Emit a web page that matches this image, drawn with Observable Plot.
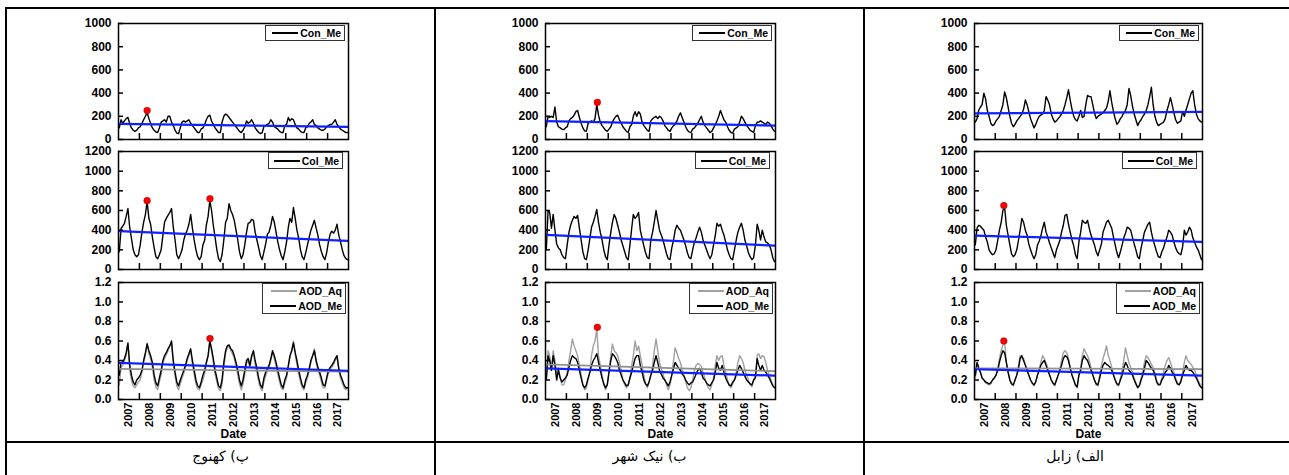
<!DOCTYPE html>
<html><head><meta charset="utf-8">
<script src="https://cdn.jsdelivr.net/npm/d3@7"></script>
<script src="https://cdn.jsdelivr.net/npm/@observablehq/plot@0.6"></script>
<style>
html,body{margin:0;padding:0;background:#fff;}
body{width:1289px;height:475px;overflow:hidden;position:relative;font-family:"Liberation Sans",Arial,sans-serif;}
.ln{position:absolute;background:#000;}
.leg{position:absolute;border:1px solid #333;background:#fff;box-sizing:border-box;padding:0 3px;font:bold 10.5px "Liberation Sans",Arial,sans-serif;color:#000;display:flex;flex-direction:column;justify-content:space-around;}
.leg .row{display:flex;align-items:center;white-space:nowrap;justify-content:flex-end;}
.leg .s{display:inline-block;width:26px;height:2px;margin-right:2px;}
.cap{position:absolute;font:14px "DejaVu Sans",sans-serif;text-align:center;direction:rtl;color:#000;}
</style></head><body>
<script>
// ---------- data (monthly, Jan 2007 .. Dec 2017) ----------
const yearLabels = [2007,2008,2009,2010,2011,2012,2013,2014,2015,2016,2017];
const yTicksCon = [0,200,400,600,800,1000];
const yTicksCol = [0,200,400,600,800,1000,1200];
const yTicksAod = [0,0.2,0.4,0.6,0.8,1.0,1.2];
const captions = ["پ) کهنوج", "ب) نیک شهر", "الف) زابل"];
const legendCon = ["Con_Me"], legendCol = ["Col_Me"], legendAod = ["AOD_Aq","AOD_Me"];

// Kahnuj
const kahnujCon = [
100,170,140,160,180,190,140,100,80,70,80,100,
110,140,170,200,235,180,140,100,80,65,60,100,
150,160,170,150,200,200,150,120,80,55,50,100,
150,160,150,160,170,140,120,100,80,60,60,90,
100,130,170,200,210,160,130,100,80,60,60,150,
200,220,210,190,170,150,130,110,90,70,60,80,
110,160,140,150,170,140,100,80,60,50,60,110,
120,130,140,170,150,110,100,90,70,60,60,120,
130,190,160,180,170,130,100,90,70,60,60,100,
110,140,150,170,130,120,100,90,80,80,90,110,
120,130,130,150,170,130,110,90,80,70,60,60];
const kahnujCol = [
180,420,440,470,540,620,430,320,200,150,130,150,
250,380,480,560,690,520,460,330,220,130,110,150,
200,350,480,520,550,580,620,430,300,150,110,150,
200,300,360,400,460,560,420,300,200,130,100,130,
250,300,450,540,700,600,450,330,200,110,80,150,
300,480,520,670,600,560,500,400,300,180,110,150,
250,380,470,480,510,500,380,300,220,140,100,180,
260,360,380,450,540,480,380,280,200,140,100,180,
280,430,520,480,630,520,400,320,200,130,100,170,
250,330,400,450,500,420,350,250,180,130,100,170,
280,360,390,370,400,460,350,280,200,140,110,100];
const kahnujAodMe = [
0.25,0.38,0.38,0.42,0.48,0.58,0.36,0.25,0.18,0.15,0.2,0.22,
0.25,0.3,0.4,0.48,0.57,0.5,0.45,0.38,0.25,0.17,0.14,0.22,
0.3,0.4,0.45,0.48,0.52,0.55,0.6,0.4,0.28,0.18,0.14,0.2,
0.25,0.3,0.35,0.42,0.47,0.52,0.4,0.3,0.2,0.14,0.12,0.18,
0.25,0.3,0.38,0.45,0.6,0.52,0.42,0.3,0.22,0.14,0.12,0.2,
0.38,0.5,0.55,0.56,0.52,0.5,0.45,0.38,0.3,0.2,0.14,0.2,
0.3,0.4,0.42,0.35,0.45,0.5,0.4,0.32,0.22,0.15,0.12,0.22,
0.28,0.32,0.35,0.42,0.5,0.45,0.38,0.3,0.22,0.15,0.12,0.2,
0.25,0.35,0.45,0.5,0.58,0.48,0.4,0.3,0.22,0.15,0.12,0.2,
0.25,0.32,0.4,0.45,0.5,0.4,0.33,0.28,0.22,0.15,0.14,0.22,
0.3,0.33,0.35,0.38,0.42,0.45,0.32,0.25,0.2,0.15,0.12,0.12];
const kahnujAodAq = [
0.15,0.33,0.35,0.4,0.45,0.57,0.32,0.2,0.14,0.12,0.15,0.18,
0.2,0.28,0.38,0.45,0.58,0.47,0.42,0.33,0.2,0.13,0.1,0.18,
0.25,0.38,0.42,0.46,0.5,0.55,0.58,0.36,0.24,0.14,0.1,0.16,
0.22,0.27,0.33,0.4,0.45,0.5,0.36,0.26,0.16,0.11,0.1,0.15,
0.2,0.27,0.36,0.44,0.6,0.5,0.38,0.26,0.18,0.11,0.09,0.16,
0.33,0.47,0.53,0.55,0.5,0.47,0.42,0.34,0.25,0.16,0.1,0.16,
0.26,0.37,0.4,0.33,0.43,0.48,0.36,0.28,0.18,0.12,0.09,0.18,
0.24,0.3,0.33,0.4,0.48,0.42,0.34,0.26,0.18,0.12,0.1,0.17,
0.22,0.33,0.43,0.5,0.6,0.46,0.36,0.26,0.18,0.12,0.1,0.17,
0.22,0.3,0.38,0.45,0.52,0.38,0.3,0.25,0.18,0.12,0.12,0.2,
0.27,0.31,0.33,0.36,0.4,0.43,0.3,0.22,0.17,0.12,0.1,0.12];

// Nikshahr
const nikCon = [
110,200,190,200,190,280,150,110,100,90,85,100,
110,160,180,190,210,240,250,190,140,100,75,70,
140,150,160,150,180,300,210,150,120,100,80,70,
90,110,150,180,200,210,170,140,110,90,70,60,
110,130,200,240,200,240,220,150,120,100,80,70,
160,180,190,200,180,200,190,160,120,100,80,70,
100,120,130,160,200,230,190,150,110,80,65,60,
90,100,120,140,170,200,150,120,100,80,60,70,
100,130,160,200,250,210,170,150,110,80,60,55,
90,100,110,150,200,180,150,120,100,80,70,60,
120,150,150,160,150,140,130,150,140,120,90,70];
const nikCol = [
200,600,580,420,560,400,260,220,200,150,120,110,
250,380,450,500,540,520,550,420,300,180,110,100,
200,320,430,480,540,610,480,380,300,200,130,100,
250,380,480,560,520,450,380,300,240,180,120,100,
250,420,560,520,540,580,400,320,240,170,120,110,
300,380,480,600,500,400,350,300,230,160,110,100,
220,300,400,450,420,400,350,300,240,170,120,110,
200,280,320,380,430,380,300,250,200,150,110,150,
250,350,470,440,460,400,350,280,200,150,110,100,
200,300,380,430,470,400,300,240,170,130,100,120,
250,460,400,300,400,330,280,270,250,200,120,80];
const nikAodMe = [
0.2,0.45,0.4,0.3,0.45,0.35,0.2,0.3,0.22,0.18,0.2,0.22,
0.25,0.33,0.4,0.45,0.43,0.42,0.38,0.3,0.22,0.15,0.12,0.15,
0.22,0.28,0.35,0.4,0.43,0.47,0.38,0.3,0.22,0.16,0.12,0.15,
0.28,0.4,0.47,0.45,0.42,0.38,0.3,0.25,0.2,0.17,0.14,0.15,
0.22,0.28,0.35,0.42,0.45,0.45,0.35,0.28,0.2,0.16,0.14,0.18,
0.25,0.3,0.38,0.45,0.38,0.3,0.26,0.22,0.2,0.17,0.14,0.18,
0.25,0.32,0.38,0.35,0.32,0.3,0.26,0.24,0.2,0.17,0.15,0.17,
0.18,0.22,0.26,0.3,0.32,0.28,0.22,0.2,0.17,0.15,0.14,0.17,
0.2,0.28,0.38,0.32,0.3,0.35,0.28,0.22,0.18,0.15,0.14,0.18,
0.2,0.25,0.3,0.35,0.32,0.28,0.24,0.2,0.18,0.16,0.15,0.2,
0.22,0.42,0.35,0.3,0.35,0.3,0.28,0.25,0.22,0.18,0.14,0.12];
const nikAodAq = [
0.2,0.5,0.45,0.3,0.5,0.4,0.25,0.32,0.22,0.15,0.15,0.2,
0.28,0.4,0.5,0.62,0.55,0.5,0.45,0.35,0.25,0.15,0.1,0.12,
0.2,0.3,0.45,0.55,0.6,0.72,0.45,0.35,0.25,0.15,0.1,0.15,
0.3,0.45,0.57,0.5,0.48,0.45,0.38,0.3,0.2,0.15,0.12,0.14,
0.22,0.35,0.45,0.6,0.5,0.55,0.45,0.35,0.25,0.16,0.12,0.18,
0.25,0.35,0.5,0.62,0.5,0.38,0.32,0.26,0.2,0.15,0.1,0.15,
0.25,0.4,0.53,0.48,0.42,0.38,0.3,0.25,0.18,0.12,0.09,0.12,
0.2,0.3,0.35,0.37,0.36,0.34,0.28,0.22,0.16,0.12,0.1,0.15,
0.22,0.35,0.45,0.4,0.44,0.45,0.35,0.28,0.2,0.14,0.12,0.16,
0.2,0.28,0.38,0.45,0.42,0.38,0.3,0.25,0.2,0.15,0.13,0.2,
0.25,0.45,0.47,0.42,0.45,0.44,0.38,0.3,0.25,0.2,0.15,0.12];

// Zabol
const zabolCon = [
150,180,250,280,300,400,350,250,200,140,120,130,
160,180,200,250,300,410,360,280,200,140,110,130,
160,180,200,220,260,340,300,240,180,140,100,130,
170,200,210,220,250,370,340,300,220,180,150,160,
180,200,220,250,300,360,430,340,260,200,170,160,
200,250,190,200,300,380,370,370,300,230,180,200,
210,220,230,250,270,330,420,320,240,180,130,150,
180,200,230,250,300,440,380,290,220,170,120,150,
170,200,220,250,300,370,450,300,200,150,120,130,
140,150,180,250,300,360,300,230,170,140,150,160,
240,200,250,300,350,400,420,300,220,180,160,150];
const zabolCol = [
250,420,450,440,420,400,330,280,200,170,150,160,
200,300,400,480,600,630,450,350,250,160,130,150,
200,300,400,520,480,400,350,260,200,150,110,150,
250,290,340,420,480,380,330,270,220,170,120,200,
250,300,380,450,550,560,460,380,300,240,150,110,
280,380,500,480,470,500,420,350,300,250,180,140,
200,260,380,430,480,500,460,420,330,250,170,120,
180,250,320,370,430,420,400,330,260,200,130,110,
220,300,380,420,460,480,380,300,240,180,130,120,
180,220,280,330,400,380,350,280,220,180,160,150,
230,400,350,380,430,400,320,280,230,200,150,100];
const zabolAodMe = [
0.25,0.38,0.33,0.28,0.22,0.2,0.18,0.17,0.16,0.17,0.2,0.22,
0.25,0.3,0.38,0.45,0.5,0.48,0.38,0.28,0.2,0.16,0.15,0.2,
0.25,0.32,0.42,0.45,0.4,0.35,0.3,0.25,0.2,0.17,0.15,0.18,
0.25,0.3,0.35,0.38,0.4,0.35,0.3,0.25,0.2,0.17,0.15,0.2,
0.25,0.3,0.35,0.42,0.45,0.44,0.4,0.32,0.25,0.2,0.15,0.13,
0.25,0.3,0.4,0.45,0.42,0.4,0.35,0.3,0.25,0.2,0.16,0.15,
0.22,0.3,0.35,0.38,0.36,0.35,0.33,0.3,0.25,0.2,0.16,0.15,
0.2,0.25,0.32,0.38,0.35,0.3,0.28,0.25,0.2,0.16,0.12,0.14,
0.2,0.25,0.32,0.4,0.38,0.35,0.32,0.3,0.25,0.18,0.15,0.15,
0.2,0.23,0.28,0.3,0.35,0.32,0.28,0.25,0.2,0.16,0.15,0.18,
0.25,0.3,0.35,0.32,0.3,0.3,0.28,0.25,0.22,0.18,0.14,0.12];
const zabolAodAq = [
0.22,0.36,0.32,0.28,0.22,0.2,0.17,0.16,0.15,0.16,0.2,0.22,
0.25,0.32,0.42,0.5,0.56,0.58,0.38,0.28,0.2,0.16,0.14,0.2,
0.25,0.35,0.45,0.43,0.42,0.36,0.3,0.25,0.2,0.16,0.14,0.18,
0.25,0.32,0.38,0.45,0.42,0.38,0.32,0.26,0.2,0.16,0.14,0.2,
0.25,0.32,0.4,0.48,0.5,0.48,0.42,0.33,0.25,0.2,0.14,0.12,
0.25,0.33,0.45,0.52,0.48,0.45,0.4,0.33,0.26,0.2,0.15,0.14,
0.25,0.35,0.42,0.48,0.55,0.45,0.4,0.33,0.26,0.2,0.15,0.14,
0.22,0.3,0.4,0.53,0.45,0.38,0.33,0.28,0.22,0.17,0.13,0.15,
0.22,0.3,0.38,0.45,0.43,0.4,0.36,0.33,0.27,0.2,0.16,0.16,
0.22,0.28,0.35,0.4,0.43,0.38,0.32,0.28,0.22,0.17,0.15,0.2,
0.28,0.38,0.45,0.4,0.38,0.36,0.33,0.3,0.25,0.2,0.16,0.12];

// trend lines (start, end)
const trendKahnujCon = [135,108], trendKahnujCol = [390,292], trendKahnujMe = [0.375,0.295], trendKahnujAq = [0.315,0.285];
const trendNikCon = [158,120], trendNikCol = [352,242], trendNikMe = [0.32,0.245], trendNikAq = [0.36,0.29];
const trendZabolCon = [225,238], trendZabolCol = [345,280], trendZabolMe = [0.31,0.245], trendZabolAq = [0.32,0.312];

// highlighted maxima (red dots)
const peakKahnujConDates = ["2008-05-15"], peakKahnujConValues = [250];
const peakKahnujColDates = ["2008-05-15","2011-05-18"], peakKahnujColValues = [700,720];
const peakKahnujAodDates = ["2011-05-18"], peakKahnujAodValues = [0.625];
const peakNikConDates = ["2009-06-25"], peakNikConValues = [320];
const peakNikColDates = [], peakNikColValues = [];
const peakNikAodDates = ["2009-06-25"], peakNikAodValues = [0.74];
const peakZabolConDates = [], peakZabolConValues = [];
const peakZabolColDates = ["2008-06-01"], peakZabolColValues = [650];
const peakZabolAodDates = ["2008-06-01"], peakZabolAodValues = [0.6];

// ---------- helpers ----------
const months = d3.range(kahnujCon.length).map(i => new Date(Date.UTC(yearLabels[0], i, 15)));
const xDomain = [new Date(Date.UTC(yearLabels[0],0,1)), new Date(Date.UTC(yearLabels[yearLabels.length-1]+1,0,1))];
const yearTickDates = yearLabels.slice(1).map(y => new Date(Date.UTC(y,0,1)));
const midYearDates = yearLabels.map(y => new Date(Date.UTC(y,6,1)));
const series = vals => vals.map((v,i) => ({date: months[i], v}));
const trend = t => [{date: months[0], v: t[0]}, {date: months[months.length-1], v: t[1]}];
const peaks = (ds, vs) => ds.map((d,i) => ({date: new Date(d), v: vs[i]}));

function ln(x, y, w, h){ const d=document.createElement("div"); d.className="ln"; Object.assign(d.style,{left:x+"px",top:y+"px",width:w+"px",height:h+"px"}); document.body.appendChild(d); }

function legend(right, top, w, h, names, colors){
  const d=document.createElement("div"); d.className="leg";
  Object.assign(d.style,{left:(right-w)+"px",top:top+"px",width:w+"px",height:h+"px"});
  names.forEach((n,i)=>{ const r=document.createElement("div"); r.className="row";
    r.innerHTML=`<span class="s" style="background:${colors[i]}"></span><span>${n}</span>`; d.appendChild(r); });
  document.body.appendChild(d);
}

function panel(o){
  const w = o.fr - o.fl, h = o.fb - o.ft;
  const mL = 45, mR = 8, mT = 8, mB = o.bottom ? 52 : 6;
  const marks = [];
  if (o.aq) marks.push(Plot.line(series(o.aq), {x:"date", y:"v", stroke:"#a0a0a0", strokeWidth:1.4}));
  marks.push(Plot.line(series(o.main), {x:"date", y:"v", stroke:"#000", strokeWidth:1.4}));
  if (o.aqTrend) marks.push(Plot.line(trend(o.aqTrend), {x:"date", y:"v", stroke:"#8f8f8f", strokeWidth:1.8}));
  marks.push(Plot.line(trend(o.trend), {x:"date", y:"v", stroke:"#1020ff", strokeWidth:2.2}));
  marks.push(Plot.dot(peaks(o.pd, o.pv), {x:"date", y:"v", r:3.3, fill:"#ff0000", stroke:"#b00000", strokeWidth:0.6}));
  marks.push(Plot.frame({stroke:"#000", strokeWidth:1.5}));
  marks.push(Plot.tickX(yearTickDates, {x:d=>d, insetTop:h-6, stroke:"#000", strokeWidth:1.5}));
  marks.push(Plot.tickY(o.yTicks, {y:d=>d, insetRight:w-5, stroke:"#000", strokeWidth:1.5}));
  marks.push(Plot.axisY({ticks:o.yTicks, tickSize:0, tickPadding:7, tickFormat:o.fmt, fontSize:12, fontWeight:"bold", label:null}));
  if (o.bottom) {
    marks.push(Plot.axisX({ticks:midYearDates, tickSize:0, tickPadding:3, tickRotate:-90, tickFormat:d3.utcFormat("%Y"), fontSize:11, fontWeight:"bold", label:null}));
    marks.push(Plot.text(["Date"], {frameAnchor:"bottom", dy:38, text:d=>d, fontSize:12, fontWeight:"bold", fill:"#000"}));
  }
  const svg = Plot.plot({
    width: mL+w+mR, height: mT+h+mB,
    marginLeft:mL, marginRight:mR, marginTop:mT, marginBottom:mB,
    x:{type:"utc", domain:xDomain, axis:null},
    y:{domain:[0,o.yMax], axis:null},
    style:{fontFamily:'"Liberation Sans", Arial, sans-serif', color:"#000", background:"transparent", overflow:"visible"},
    marks
  });
  Object.assign(svg.style, {position:"absolute", left:(o.fl-mL)+"px", top:(o.ft-mT)+"px", maxWidth:"none"});
  document.body.appendChild(svg);
}

// ---------- layout ----------
const rows = [{ft:23, fb:139}, {ft:151, fb:269}, {ft:282, fb:399}];
const intFmt = d => String(d);
const stations = [
  {fl:118, fr:348, con:kahnujCon, col:kahnujCol, me:kahnujAodMe, aq:kahnujAodAq,
   tCon:trendKahnujCon, tCol:trendKahnujCol, tMe:trendKahnujMe, tAq:trendKahnujAq,
   pCon:[peakKahnujConDates,peakKahnujConValues], pCol:[peakKahnujColDates,peakKahnujColValues], pAod:[peakKahnujAodDates,peakKahnujAodValues],
   cap:captions[0], cl:6, cr:435},
  {fl:545, fr:775, con:nikCon, col:nikCol, me:nikAodMe, aq:nikAodAq,
   tCon:trendNikCon, tCol:trendNikCol, tMe:trendNikMe, tAq:trendNikAq,
   pCon:[peakNikConDates,peakNikConValues], pCol:[peakNikColDates,peakNikColValues], pAod:[peakNikAodDates,peakNikAodValues],
   cap:captions[1], cl:435, cr:864},
  {fl:974, fr:1202, con:zabolCon, col:zabolCol, me:zabolAodMe, aq:zabolAodAq,
   tCon:trendZabolCon, tCol:trendZabolCol, tMe:trendZabolMe, tAq:trendZabolAq,
   pCon:[peakZabolConDates,peakZabolConValues], pCol:[peakZabolColDates,peakZabolColValues], pAod:[peakZabolAodDates,peakZabolAodValues],
   cap:captions[2], cl:864, cr:1286}
];

// table borders
ln(6, 7, 1283, 1.5);
ln(5, 7, 2, 468);
ln(434, 7, 1.5, 468);
ln(863, 7, 1.5, 468);
ln(6, 441, 1283, 2);

stations.forEach(s => {
  panel({fl:s.fl, fr:s.fr, ft:rows[0].ft, fb:rows[0].fb, main:s.con, trend:s.tCon, yMax:1000, yTicks:yTicksCon, fmt:intFmt, pd:s.pCon[0], pv:s.pCon[1]});
  panel({fl:s.fl, fr:s.fr, ft:rows[1].ft, fb:rows[1].fb, main:s.col, trend:s.tCol, yMax:1200, yTicks:yTicksCol, fmt:intFmt, pd:s.pCol[0], pv:s.pCol[1]});
  panel({fl:s.fl, fr:s.fr, ft:rows[2].ft, fb:rows[2].fb, main:s.me, aq:s.aq, trend:s.tMe, aqTrend:s.tAq, yMax:1.2, yTicks:yTicksAod, fmt:d3.format(".1f"), pd:s.pAod[0], pv:s.pAod[1], bottom:true});
  legend(s.fr-3, rows[0].ft+2, 80, 16, legendCon, ["#000"]);
  legend(s.fr-5, rows[1].ft+1, 75, 17, legendCol, ["#000"]);
  legend(s.fr-2, rows[2].ft+1, 84, 31, legendAod, ["#a0a0a0","#000"]);
  const c = document.createElement("div"); c.className="cap";
  Object.assign(c.style, {left:s.cl+"px", width:(s.cr-s.cl)+"px", top:"448px"});
  c.textContent = s.cap;
  document.body.appendChild(c);
});
</script>
</body></html>
